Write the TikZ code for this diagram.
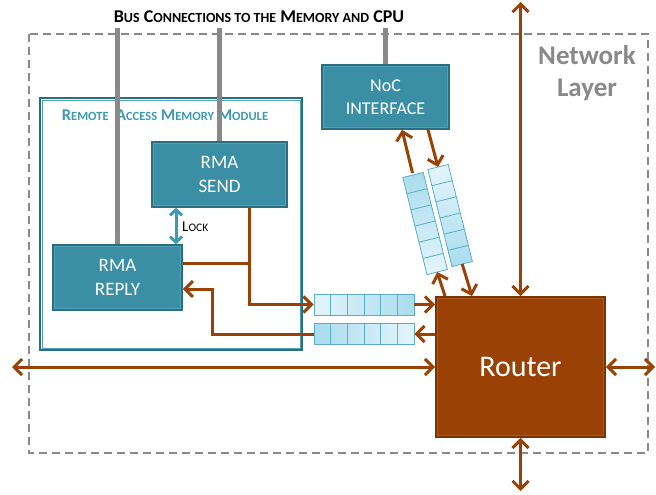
\documentclass[tikz,border=0pt]{standalone}
\usepackage{fontspec}
\setmainfont{Carlito}
\usetikzlibrary{arrows.meta,calc}
\definecolor{teal1}{HTML}{3A8FA5}
\definecolor{teal2}{HTML}{2C6E80}
\definecolor{teal3}{HTML}{4FA3B8}
\definecolor{tealA}{HTML}{3C9BB3}
\definecolor{brn}{HTML}{9A4205}
\definecolor{brnD}{HTML}{7A3200}
\definecolor{brnL}{HTML}{A85A1E}
\definecolor{bufL}{HTML}{E4F5FB}
\definecolor{bufD}{HTML}{A9DCEE}
\definecolor{bufE}{HTML}{5AAEC6}
\definecolor{busg}{HTML}{898989}
\newcommand\SCx[1]{{\fontsize{14}{16}\selectfont #1}}
\newcommand\SCy[1]{{\fontsize{12.5}{14}\selectfont #1}}
\newcommand\SCz[1]{{\fontsize{11.5}{13}\selectfont #1}}
\tikzset{
  modbox/.style={draw=teal2, line width=1.6pt, fill=teal1, text=white, align=center, font=\fontsize{19}{24}\selectfont, inner sep=0pt},
  bus/.style={draw=busg, line width=4.5pt},
  wire/.style={draw=brn, line width=3pt},
  dbl/.style={wire, {Straight Barb[length=8pt,width=16pt]}-{Straight Barb[length=8pt,width=16pt]}},
  one/.style={wire, -{Straight Barb[length=8pt,width=16pt]}},
  cellbox/.style={draw=bufE, line width=0.8pt, minimum width=100pt, minimum height=21pt, inner sep=0pt},
}
\begin{document}
\begin{tikzpicture}[x=1pt,y=-1pt]
\useasboundingbox (0,0) rectangle (656,495);
% network layer
\draw[busg, line width=1.8pt, dash pattern=on 8pt off 5pt] (29,34) rectangle (648,453);
\node[text=busg, font=\bfseries\fontsize{27}{32}\selectfont, align=center] (nl) at (587,73) {Network\\Layer};
% title
\node[font=\bfseries\fontsize{18}{20}\selectfont] (title) at (259,17) {B\SCx{US} C\SCx{ONNECTIONS TO THE} M\SCx{EMORY AND} CPU};
% RMM
\draw[teal2, line width=1.8pt, fill=white] (40,98) rectangle (302,350);
\draw[teal3, line width=0.5pt] (42,100) rectangle (300,348);
\node[text=tealA, font=\bfseries\fontsize{16.5}{18}\selectfont] (rmm) at (165,115) {R\SCy{EMOTE}\ \ A\SCy{CCESS} M\SCy{EMORY} M\SCy{ODULE}};
% boxes
\node[modbox, minimum width=135pt, minimum height=65pt] (send) at (219.5,174.5) {RMA\\SEND};
\node[modbox, minimum width=129pt, minimum height=65pt] (reply) at (117.5,277.5) {RMA\\REPLY};
\node[modbox, minimum width=127pt, minimum height=64pt, font=\fontsize{18}{23}\selectfont] (noc) at (385.5,97) {NoC\\INTERFACE};
\node[draw=brnD, line width=1.8pt, fill=brn, text=white, minimum width=169pt, minimum height=140pt, font=\fontsize{30}{34}\selectfont] (router) at (520.5,367) {Router};
\foreach \m in {send,reply,noc}{
  \draw[teal3, line width=0.6pt] ([shift={(2.2,2.2)}]\m.north west) rectangle ([shift={(-2.2,-2.2)}]\m.south east);
}
\draw[brnL, line width=0.6pt] ([shift={(2.2,2.2)}]router.north west) rectangle ([shift={(-2.2,-2.2)}]router.south east);
% bus lines
\coordinate (b1) at (117.5,28);
\coordinate (b2) at (219.5,28);
\coordinate (b3) at (385.5,28);
\draw[bus] (b1) -- (reply.north);
\draw[bus] (b2) -- (send.north);
\draw[bus] (b3) -- (noc.north);
% lock
\coordinate (lk) at (176,0);
\draw[draw=tealA, line width=3pt, {Straight Barb[length=5.5pt,width=12pt]}-{Straight Barb[length=5.5pt,width=12pt]}] (lk |- send.south) -- (lk |- reply.north);
\node[anchor=west, font=\fontsize{15}{16}\selectfont, inner sep=0pt] (lock) at (182,227) {L\SCz{OCK}};
% horizontal buffers
\node[cellbox, left color=bufL, right color=bufD] (bufA) at (364,304.5) {};
\node[cellbox, left color=bufD, right color=bufL] (bufB) at (364,334) {};
\foreach \b in {bufA,bufB}{
  \foreach \i in {1,...,5}{
    \draw[bufE, line width=0.8pt] ($(\b.north west)!\i/6!(\b.north east)$) -- ($(\b.south west)!\i/6!(\b.south east)$);
  }
}
% tilted buffers
\begin{scope}[shift={(413,175)}, rotate=14]
  \shade[top color=bufD, bottom color=bufL] (-10.5,0) rectangle (10.5,100);
  \draw[bufE, line width=0.8pt] (-10.5,0) rectangle (10.5,100);
  \foreach \i in {1,...,5}{\draw[bufE, line width=0.8pt] (-10.5,\i*16.667) -- (10.5,\i*16.667);}
  \coordinate (qAtop) at (0,-2);
  \coordinate (qAbot) at (0,100);
\end{scope}
\begin{scope}[shift={(438,167)}, rotate=14]
  \shade[top color=bufL, bottom color=bufD] (-10.5,0) rectangle (10.5,100);
  \draw[bufE, line width=0.8pt] (-10.5,0) rectangle (10.5,100);
  \foreach \i in {1,...,5}{\draw[bufE, line width=0.8pt] (-10.5,\i*16.667) -- (10.5,\i*16.667);}
  \coordinate (qBtop) at (0,0);
  \coordinate (qBbot) at (0,100);
\end{scope}
% tilted buffer arrows
\coordinate (n1) at (402,0);
\coordinate (n2) at (428,0);
\coordinate (r1) at (445,0);
\coordinate (r2) at (472,0);
\draw[one] (qAtop) -- (n1 |- noc.south);
\draw[one] (n2 |- noc.south) -- (qBtop);
\draw[one] (r1 |- router.north) -- (qAbot);
\draw[one] (qBbot) -- (r2 |- router.north);
% router arrows
\coordinate (up) at (520.5,2);
\coordinate (dn) at (520.5,491);
\coordinate (rt) at (655,367);
\coordinate (lt) at (12,367);
\draw[dbl] (router.north) -- (up);
\draw[dbl] (router.south) -- (dn);
\draw[dbl] (router.east) -- (rt);
\draw[dbl] (lt) -- (router.west);
% buffer-router
\draw[one] (bufA.east) -- (bufA.east -| router.west);
\draw[one] (bufB.east -| router.west) -- (bufB.east);
% RMA wires
\coordinate (j1) at (249,263);
\coordinate (j2) at (212,289);
\draw[wire] (j1 |- send.south) -- (j1);
\draw[one] (j1) -- (j1 |- bufA.west) -- (bufA.west);
\draw[wire] (reply.east |- j1) -- (j1);
\draw[one] (bufB.west) -- (j2 |- bufB.west) -- (j2) -- (j2 -| reply.east);
\end{tikzpicture}
\end{document}
